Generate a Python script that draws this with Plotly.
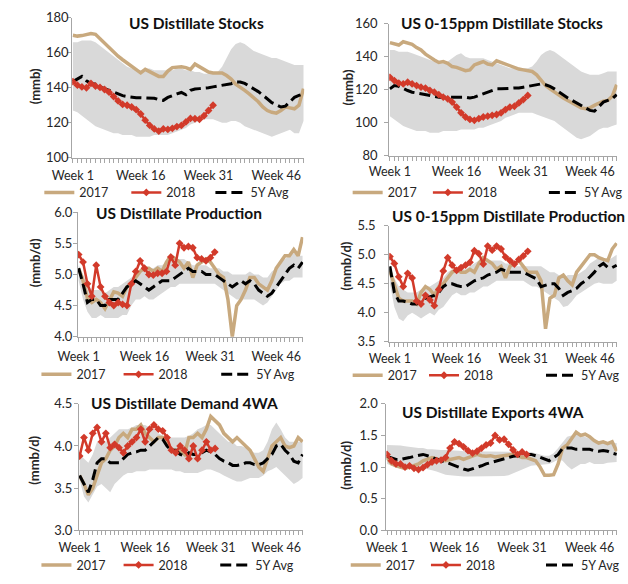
import plotly.graph_objects as go

# ---------------- data ----------------
weeks = list(range(1, 53))
weeks_2018 = weeks[:32]
week_tick_vals = [1, 16, 31, 46]
week_tick_text = ["Week 1", "Week 16", "Week 31", "Week 46"]
series_names = ["2017", "2018", "5Y Avg"]

panel_titles = [
    "US Distillate Stocks",
    "US 0-15ppm Distillate Stocks",
    "US Distillate Production",
    "US 0-15ppm Distillate Production",
    "US Distillate Demand 4WA",
    "US Distillate Exports 4WA",
]
unit_labels = ["(mmb)", "(mmb)", "(mmb/d)", "(mmb/d)", "(mmb/d)", "(mmb/d)"]

# US distillate stocks (mmb)
stocks_2017 = [170, 169.5, 169.8, 170.5, 171, 170.5, 168, 165, 163, 160, 158, 156, 154, 152, 150.5,
               148.5, 150.5, 149, 148, 146.5, 146.5, 149.5, 151.5, 152, 152, 151.5, 150.5, 153.5, 152,
               150.5, 149, 148.5, 148.5, 148.5, 147, 145, 142, 140.5, 138.5, 136.5, 134.5, 132, 129,
               127, 126, 125.5, 127, 129, 128.5, 128, 130, 139.5]
stocks_2018 = [143.5, 141.5, 140.5, 140, 142.5, 141, 140.2, 139, 137.5, 135, 132.5, 130.5, 130, 129,
               127.5, 125, 121.5, 118.5, 116.5, 115.2, 116.5, 116.2, 116.8, 117.8, 118.5, 120.5, 122.5,
               122.3, 122, 124, 127, 130]
stocks_avg = [143.5, 145, 146.5, 144, 142.5, 142, 140.5, 139.5, 138.5, 137.5, 136.5, 135.5, 135, 134.5,
              134.3, 134.3, 134.3, 134.3, 134, 133.2, 132.8, 134.5, 135.6, 136.5, 137.3, 136, 138.5,
              139.3, 139.5, 139.6, 140, 140.5, 141, 141.3, 141.8, 142.3, 143.3, 143.3, 142.5, 141, 139.5,
              137.8, 135.8, 133.5, 131.5, 130.3, 129, 129.5, 132, 134.5, 135.6, 136.5]
stocks_lo = [127, 126, 124, 122, 120, 118, 117, 116, 115, 114, 114, 113, 113, 113, 112, 112, 112, 112,
             113, 113, 113, 113, 114, 115, 116, 117, 119, 120, 121, 122, 122, 122, 121, 120, 120, 121,
             121, 120, 118, 117, 116, 115, 114, 113, 112, 113, 114, 115, 116, 114, 114, 121]
stocks_hi = [166, 166, 167, 167, 167, 166, 164, 162, 160, 158, 156, 154, 152, 151, 150, 150, 151, 151,
             150, 150, 150, 150, 150, 151, 151, 150, 150, 149, 149, 148, 148, 148, 149, 152, 157, 162,
             165, 166, 165, 163, 161, 160, 159, 158, 157, 157, 156, 155, 154, 153, 153, 153]

# US 0-15ppm distillate stocks (mmb)
ulsd_stocks_2017 = [148.5, 147.5, 147, 149, 148.5, 147.5, 145.5, 144, 141.5, 139.5, 138, 136.5, 137, 136,
                    134, 133.5, 132.5, 131.5, 132, 135, 136, 137, 135.5, 135, 137.5, 136.5, 135, 134,
                    133, 132.5, 132, 131.5, 131, 129, 125.5, 122.5, 120.5, 118.5, 117, 115, 113.5, 112,
                    110.5, 109, 108.5, 109, 110.5, 112, 113, 113.5, 116, 123]
ulsd_stocks_2018 = [127.5, 125.5, 124, 123.5, 124.5, 123.5, 122.5, 121.5, 121, 119.5, 118.5, 117, 115.5,
                    114.5, 112.5, 109.5, 106, 103.5, 102, 101.5, 102.5, 103.5, 104, 104.5, 105, 106, 108,
                    109.5, 110, 112, 114, 116.5]
ulsd_stocks_avg = [120.5, 122.5, 122, 120.5, 119.5, 118.5, 118, 117.5, 117, 116.5, 116, 115.5, 115.5,
                   115.5, 115.5, 115.5, 115.5, 115.5, 115, 115.5, 116.5, 117.5, 118.5, 119.5, 120.5,
                   120.5, 120.5, 120.8, 121, 121, 121.5, 122, 122.5, 123, 123.5, 123, 122, 120.5, 118.5,
                   116.5, 115, 113.5, 112, 110.5, 109, 107.5, 107, 110, 112.5, 113.5, 114.5, 117]
ulsd_stocks_lo = [104, 102, 100, 98, 97, 96, 95, 95, 95, 94, 94, 94, 95, 95, 95, 95, 96, 96, 96, 96, 97,
                  97, 98, 99, 100, 101, 103, 104, 105, 106, 106, 106, 106, 105, 104, 103, 102, 101, 99,
                  97, 95, 93, 91, 90, 91, 92, 94, 96, 97, 97, 98, 99]
ulsd_stocks_hi = [144, 144, 143, 143, 143, 142, 141, 140, 139, 138, 137, 136, 136, 137, 139, 141, 142,
                  140, 139, 139, 139, 139, 138, 137, 136, 135, 134, 133, 133, 133, 133, 133, 134, 137,
                  141, 143, 144, 143, 141, 139, 137, 135, 133, 131, 130, 129, 129, 129, 130, 131, 131, 131]

# US distillate production (mmb/d)
prod_2017 = [5.1, 4.9, 4.62, 4.55, 4.6, 4.55, 4.45, 4.6, 4.72, 4.7, 4.65, 4.8, 4.85, 4.95, 5.05, 5.1,
             5.1, 5.05, 5.1, 5.05, 5.2, 5.3, 5.25, 5.2, 5.1, 5.2, 4.95, 5.15, 5.2, 5.25, 5.2, 5.1, 5.0,
             4.95, 4.6, 4.0, 4.5, 4.6, 4.75, 4.95, 4.95, 4.85, 4.8, 4.75, 4.9, 5.1, 5.2, 5.3, 5.3, 5.4,
             5.3, 5.6]
prod_2018 = [5.32, 5.2, 4.85, 4.65, 5.15, 4.8, 4.65, 4.55, 4.5, 4.55, 4.52, 4.5, 4.85, 5.05, 5.22, 5.1,
             5.0, 4.99, 5.02, 5.02, 5.05, 5.28, 5.15, 5.5, 5.43, 5.45, 5.43, 5.27, 5.25, 5.22, 5.27, 5.36]
prod_avg = [5.1, 4.85, 4.55, 4.6, 4.6, 4.5, 4.5, 4.6, 4.6, 4.6, 4.7, 4.8, 4.85, 4.9, 4.85, 4.8, 4.75,
            4.8, 4.85, 4.9, 4.9, 4.9, 4.95, 5.0, 5.05, 5.1, 5.05, 5.05, 5.05, 5.0, 5.0, 5.0, 4.95, 4.9,
            4.85, 4.8, 4.85, 4.9, 4.85, 4.9, 4.85, 4.75, 4.7, 4.65, 4.7, 4.8, 4.9, 5.0, 5.1, 5.15, 5.1,
            5.2]
prod_lo = [4.9, 4.6, 4.4, 4.3, 4.3, 4.35, 4.3, 4.3, 4.3, 4.3, 4.35, 4.35, 4.5, 4.6, 4.6, 4.65, 4.6, 4.6,
           4.65, 4.7, 4.75, 4.8, 4.8, 4.85, 4.85, 4.85, 4.85, 4.85, 4.85, 4.85, 4.85, 4.85, 4.8, 4.75,
           4.7, 4.65, 4.6, 4.6, 4.6, 4.6, 4.6, 4.55, 4.5, 4.55, 4.65, 4.75, 4.85, 4.9, 4.9, 4.95, 4.95,
           4.95]
prod_hi = [5.15, 5.0, 4.85, 4.75, 4.75, 4.75, 4.7, 4.75, 4.8, 4.8, 4.85, 4.9, 4.95, 5.0, 5.05, 5.1, 5.1,
           5.1, 5.15, 5.15, 5.2, 5.25, 5.25, 5.25, 5.25, 5.2, 5.15, 5.15, 5.15, 5.15, 5.1, 5.1, 5.1,
           5.05, 5.05, 5.0, 5.0, 5.0, 5.0, 5.05, 5.0, 5.0, 4.95, 4.95, 5.05, 5.1, 5.2, 5.25, 5.3, 5.35,
           5.3, 5.3]

# US 0-15ppm distillate production (mmb/d)
ulsd_prod_2017 = [4.72, 4.5, 4.25, 4.2, 4.2, 4.2, 4.15, 4.35, 4.45, 4.4, 4.3, 4.45, 4.5, 4.6, 4.7, 4.75,
                  4.7, 4.7, 4.75, 4.7, 4.85, 4.95, 4.9, 4.85, 4.75, 4.8, 4.6, 4.8, 4.85, 4.9, 4.8, 4.7,
                  4.7, 4.7, 4.55, 3.72, 4.25, 4.3, 4.6, 4.65, 4.55, 4.48, 4.7, 4.8, 4.9, 5.0, 5.0, 4.95,
                  4.92, 4.9, 5.1, 5.2]
ulsd_prod_2018 = [4.97, 4.85, 4.62, 4.45, 4.68, 4.6, 4.2, 4.15, 4.3, 4.22, 4.12, 4.4, 4.72, 4.95, 4.82,
                  4.73, 4.78, 4.82, 4.87, 5.07, 5.02, 4.84, 5.15, 5.08, 5.15, 5.1, 4.96, 4.9, 4.84, 4.92,
                  4.98, 5.06]
ulsd_prod_avg = [4.8, 4.35, 4.2, 4.2, 4.18, 4.15, 4.15, 4.22, 4.25, 4.28, 4.3, 4.35, 4.45, 4.5, 4.5,
                 4.47, 4.45, 4.45, 4.5, 4.55, 4.58, 4.6, 4.65, 4.68, 4.7, 4.75, 4.72, 4.7, 4.7, 4.7, 4.7,
                 4.66, 4.62, 4.58, 4.45, 4.48, 4.5, 4.5, 4.42, 4.3, 4.35, 4.38, 4.42, 4.5, 4.55, 4.62,
                 4.7, 4.8, 4.85, 4.78, 4.78, 4.82]
ulsd_prod_lo = [4.5, 4.1, 3.9, 3.85, 3.95, 4.0, 3.95, 3.9, 3.95, 4.0, 3.95, 4.05, 4.1, 4.2, 4.3, 4.35,
                4.3, 4.3, 4.35, 4.35, 4.4, 4.45, 4.45, 4.5, 4.55, 4.55, 4.55, 4.55, 4.55, 4.55, 4.55,
                4.5, 4.45, 4.45, 4.4, 4.35, 4.3, 4.25, 4.2, 4.1, 4.12, 4.2, 4.3, 4.35, 4.4, 4.45, 4.5,
                4.52, 4.5, 4.5, 4.5, 4.55]
ulsd_prod_hi = [4.8, 4.6, 4.45, 4.4, 4.35, 4.35, 4.35, 4.4, 4.45, 4.45, 4.5, 4.55, 4.6, 4.7, 4.75, 4.75,
                4.75, 4.75, 4.8, 4.85, 4.9, 4.9, 4.9, 4.9, 4.9, 4.9, 4.85, 4.85, 4.8, 4.8, 4.8, 4.8,
                4.8, 4.8, 4.8, 4.75, 4.7, 4.7, 4.65, 4.6, 4.65, 4.65, 4.65, 4.7, 4.75, 4.85, 4.9, 4.95,
                4.95, 4.9, 4.95, 5.0]

# US distillate demand, 4-week average (mmb/d)
demand_2017 = [3.65, 3.55, 3.42, 3.5, 3.65, 3.8, 3.85, 3.95, 4.0, 4.1, 4.15, 4.1, 4.2, 4.2, 4.25, 4.15,
               4.1, 4.05, 4.1, 4.1, 4.05, 3.95, 3.95, 3.95, 3.9, 4.1, 4.1, 4.15, 4.1, 4.2, 4.35, 4.3,
               4.25, 4.15, 4.1, 4.05, 4.1, 4.05, 4.0, 3.95, 3.85, 3.75, 3.7, 3.85, 4.0, 4.05, 4.1, 4.0,
               3.98, 4.0, 4.1, 4.05]
demand_2018 = [3.88, 4.1, 3.95, 4.15, 4.22, 4.05, 4.15, 3.98, 4.02, 3.98, 3.92, 4.0, 4.05, 4.1, 4.2,
               4.05, 4.2, 4.25, 4.2, 4.18, 4.1, 3.95, 3.92, 4.0, 3.95, 3.85, 4.0, 3.85, 3.95, 4.05,
               3.95, 3.97]
demand_avg = [3.65, 3.55, 3.45, 3.6, 3.8, 3.85, 3.85, 3.8, 3.8, 3.8, 3.85, 3.9, 3.92, 3.93, 3.95, 3.95,
              4.0, 4.05, 4.1, 4.08, 4.0, 3.95, 3.95, 3.9, 3.88, 3.92, 3.9, 3.9, 3.92, 3.95, 3.93, 3.9,
              3.85, 3.82, 3.8, 3.77, 3.77, 3.78, 3.8, 3.8, 3.78, 3.78, 3.8, 3.85, 3.9, 4.0, 4.02, 3.95,
              3.9, 3.82, 3.8, 3.9]
demand_lo = [3.6, 3.4, 3.33, 3.42, 3.52, 3.55, 3.5, 3.45, 3.55, 3.6, 3.65, 3.68, 3.68, 3.7, 3.7, 3.7,
             3.72, 3.72, 3.72, 3.72, 3.72, 3.72, 3.7, 3.7, 3.68, 3.68, 3.68, 3.68, 3.7, 3.72, 3.72, 3.7,
             3.68, 3.65, 3.62, 3.6, 3.58, 3.58, 3.6, 3.62, 3.62, 3.62, 3.65, 3.7, 3.72, 3.75, 3.7, 3.65,
             3.6, 3.55, 3.58, 3.62]
demand_hi = [3.9, 3.85, 3.8, 3.9, 4.05, 4.05, 4.05, 4.1, 4.15, 4.2, 4.2, 4.2, 4.22, 4.25, 4.25, 4.25,
             4.22, 4.2, 4.15, 4.12, 4.1, 4.1, 4.1, 4.1, 4.1, 4.12, 4.15, 4.2, 4.22, 4.25, 4.25, 4.2, 4.15,
             4.1, 4.05, 4.05, 4.0, 4.0, 3.98, 3.95, 3.92, 3.92, 3.95, 4.05, 4.2, 4.28, 4.2, 4.1, 4.05,
             4.05, 4.05, 4.05]

# US distillate exports, 4-week average (mmb/d)
exports_2017 = [1.15, 1.05, 1.02, 1.0, 0.98, 1.0, 1.02, 1.05, 1.1, 1.12, 1.15, 1.13, 1.12, 1.1, 1.12,
                1.13, 1.15, 1.12, 1.15, 1.18, 1.2, 1.18, 1.17, 1.18, 1.16, 1.17, 1.18, 1.18, 1.2, 1.18,
                1.15, 1.15, 1.13, 1.1, 1.0, 0.87, 0.87, 0.88, 1.05, 1.3, 1.35, 1.45, 1.55, 1.5, 1.52,
                1.48, 1.42, 1.38, 1.4, 1.37, 1.4, 1.25]
exports_2018 = [1.2, 1.1, 1.05, 1.05, 1.0, 1.02, 0.98, 0.96, 0.99, 1.04, 1.08, 1.1, 1.11, 1.15, 1.3, 1.4,
                1.37, 1.32, 1.26, 1.22, 1.25, 1.3, 1.35, 1.38, 1.5, 1.43, 1.44, 1.36, 1.27, 1.2, 1.24,
                1.2]
exports_avg = [1.17, 1.15, 1.12, 1.12, 1.13, 1.15, 1.17, 1.18, 1.2, 1.18, 1.15, 1.12, 1.1, 1.08, 1.05,
               1.02, 1.0, 0.97, 0.95, 0.97, 1.0, 1.02, 1.05, 1.07, 1.1, 1.12, 1.14, 1.15, 1.17, 1.18,
               1.18, 1.2, 1.2, 1.18, 1.15, 1.12, 1.1, 1.15, 1.2, 1.3, 1.3, 1.3, 1.28, 1.28, 1.27, 1.28,
               1.26, 1.25, 1.26, 1.25, 1.22, 1.2]
exports_lo = [1.05, 1.02, 1.0, 1.0, 1.0, 1.0, 1.0, 1.0, 0.98, 0.97, 0.95, 0.93, 0.9, 0.88, 0.87, 0.86,
              0.86, 0.85, 0.85, 0.85, 0.85, 0.85, 0.85, 0.85, 0.85, 0.85, 0.86, 0.87, 0.9, 0.93, 0.97,
              1.0, 1.02, 1.03, 1.04, 1.05, 1.05, 1.08, 1.12, 1.1, 1.02, 0.96, 1.0, 1.05, 1.05, 1.08,
              1.05, 1.05, 1.05, 1.07, 1.08, 1.08]
exports_hi = [1.35, 1.35, 1.35, 1.34, 1.33, 1.32, 1.3, 1.3, 1.3, 1.28, 1.28, 1.27, 1.27, 1.27, 1.27,
              1.26, 1.26, 1.25, 1.25, 1.25, 1.25, 1.25, 1.25, 1.25, 1.25, 1.25, 1.25, 1.25, 1.25, 1.25,
              1.25, 1.25, 1.24, 1.22, 1.2, 1.18, 1.18, 1.22, 1.3, 1.4, 1.48, 1.5, 1.52, 1.5, 1.48, 1.45,
              1.42, 1.4, 1.4, 1.38, 1.38, 1.38]

panel_series = [
    (stocks_2017, stocks_2018, stocks_avg, stocks_lo, stocks_hi),
    (ulsd_stocks_2017, ulsd_stocks_2018, ulsd_stocks_avg, ulsd_stocks_lo, ulsd_stocks_hi),
    (prod_2017, prod_2018, prod_avg, prod_lo, prod_hi),
    (ulsd_prod_2017, ulsd_prod_2018, ulsd_prod_avg, ulsd_prod_lo, ulsd_prod_hi),
    (demand_2017, demand_2018, demand_avg, demand_lo, demand_hi),
    (exports_2017, exports_2018, exports_avg, exports_lo, exports_hi),
]
y_ranges = [(100, 180), (80, 160), (4.0, 6.0), (3.5, 5.5), (3.0, 4.5), (0.0, 2.0)]
y_dticks = [20, 20, 0.5, 0.5, 0.5, 0.5]
y_formats = ["d", "d", ".1f", ".1f", ".1f", ".1f"]

# ---------------- layout geometry (pixels) ----------------
W, H = 628, 584
FONT = "Lato, Carlito, 'Open Sans', sans-serif"
C2017, C2018, CAVG, CBAND = "#c8a97e", "#d23a2a", "#000000", "#d9d9d9"
AXIS = "#a6a6a6"
TEXT = "#262626"

# plot box: (left, right, top, bottom)
boxes = [
    (54, 294, 10, 154),
    (382, 618, 16, 152),
    (60, 293, 210, 338),
    (382, 618, 224, 343),
    (61, 293, 407, 537),
    (379, 618, 407, 537),
]
title_pos = [(183, 15), (499, 15), (165, 211), (505, 214), (170, 406), (489, 415)]
unit_pos = [(15, 80), (339, 82), (15, 262), (337, 265), (15, 465), (337, 470)]
y_label_standoff = [-4, 4, -2, 6, -1, 1]
x_label_standoff = [2, 0, 4, 1, 2, 2]
legend_y = [190, 190, 377, 378, 573, 573]
legend_x = [(20, 110, 197), (339, 422, 542), (17, 102, 203), (339, 418, 539), (17, 102, 202), (337, 420, 539)]


def px(x):
    return x / W


def py(y):
    return 1 - y / H


fig = go.Figure()
layout = dict(
    width=W, height=H, margin=dict(l=0, r=0, t=0, b=0),
    paper_bgcolor="white", plot_bgcolor="white",
    font=dict(family=FONT, size=12, color=TEXT),
    annotations=[],
)

legend_count = 0
for i, (s17, s18, savg, slo, shi) in enumerate(panel_series):
    n = i + 1
    xa = "x" if n == 1 else f"x{n}"
    ya = "y" if n == 1 else f"y{n}"
    left, right, top, bottom = boxes[i]

    legend_ids = []
    for k in range(3):
        legend_count += 1
        lid = "legend" if legend_count == 1 else f"legend{legend_count}"
        legend_ids.append(lid)
        layout[lid] = dict(
            x=px(legend_x[i][k]), y=py(legend_y[i]), xanchor="left", yanchor="middle",
            orientation="h", bgcolor="rgba(0,0,0,0)", borderwidth=0,
            font=dict(family=FONT, size=12.5, color=TEXT),
            itemwidth=30,
        )

    # 5-year min/max range band
    fig.add_trace(go.Scatter(x=weeks, y=slo, xaxis=xa, yaxis=ya, mode="lines",
                             line=dict(width=0, color=CBAND), showlegend=False, hoverinfo="skip"))
    fig.add_trace(go.Scatter(x=weeks, y=shi, xaxis=xa, yaxis=ya, mode="lines",
                             line=dict(width=0, color=CBAND), fill="tonexty", fillcolor=CBAND,
                             showlegend=False, hoverinfo="skip"))
    fig.add_trace(go.Scatter(x=weeks, y=s17, xaxis=xa, yaxis=ya, mode="lines", name=series_names[0],
                             line=dict(color=C2017, width=3.5), legend=legend_ids[0]))
    fig.add_trace(go.Scatter(x=weeks, y=savg, xaxis=xa, yaxis=ya, mode="lines", name=series_names[2],
                             line=dict(color=CAVG, width=3, dash="11px,5px"), legend=legend_ids[2]))
    fig.add_trace(go.Scatter(x=weeks_2018, y=s18, xaxis=xa, yaxis=ya, mode="lines+markers",
                             name=series_names[1], line=dict(color=C2018, width=2.5),
                             marker=dict(symbol="diamond", size=6, color=C2018), legend=legend_ids[1]))

    xkey = "xaxis" if n == 1 else f"xaxis{n}"
    ykey = "yaxis" if n == 1 else f"yaxis{n}"
    layout[xkey] = dict(
        domain=[px(left), px(right)], anchor=ya, range=[0.85, 52.15],
        tickmode="array", tickvals=week_tick_vals, ticktext=week_tick_text,
        ticks="outside", ticklen=4, tickcolor=AXIS, showline=True, linecolor=AXIS, linewidth=1,
        showgrid=False, zeroline=False, ticklabelstandoff=x_label_standoff[i],
        tickfont=dict(family=FONT, size=12.5, color=TEXT),
        minor=dict(ticks="outside", ticklen=4, tickcolor=AXIS, dtick=1, tick0=1, showgrid=False),
    )
    layout[ykey] = dict(
        domain=[py(bottom), py(top)], anchor=xa, range=list(y_ranges[i]),
        dtick=y_dticks[i], tickformat=y_formats[i],
        ticks="outside", ticklen=4, tickcolor=AXIS, showline=True, linecolor=AXIS, linewidth=1,
        showgrid=False, zeroline=False, ticklabelstandoff=y_label_standoff[i],
        tickfont=dict(family=FONT, size=13, color=TEXT),
    )

    tx, ty = title_pos[i]
    layout["annotations"].append(dict(
        text=f"<b>{panel_titles[i]}</b>", x=px(tx), y=py(ty), xref="paper", yref="paper",
        xanchor="center", yanchor="middle", showarrow=False,
        font=dict(family=FONT, size=15.5, color="#111111"),
    ))
    ux, uy = unit_pos[i]
    layout["annotations"].append(dict(
        text=f"<b>{unit_labels[i]}</b>", x=px(ux), y=py(uy), xref="paper", yref="paper",
        xanchor="center", yanchor="middle", showarrow=False, textangle=-90,
        font=dict(family=FONT, size=13, color=TEXT),
    ))

fig.update_layout(**layout)
fig.write_html("out.html")
